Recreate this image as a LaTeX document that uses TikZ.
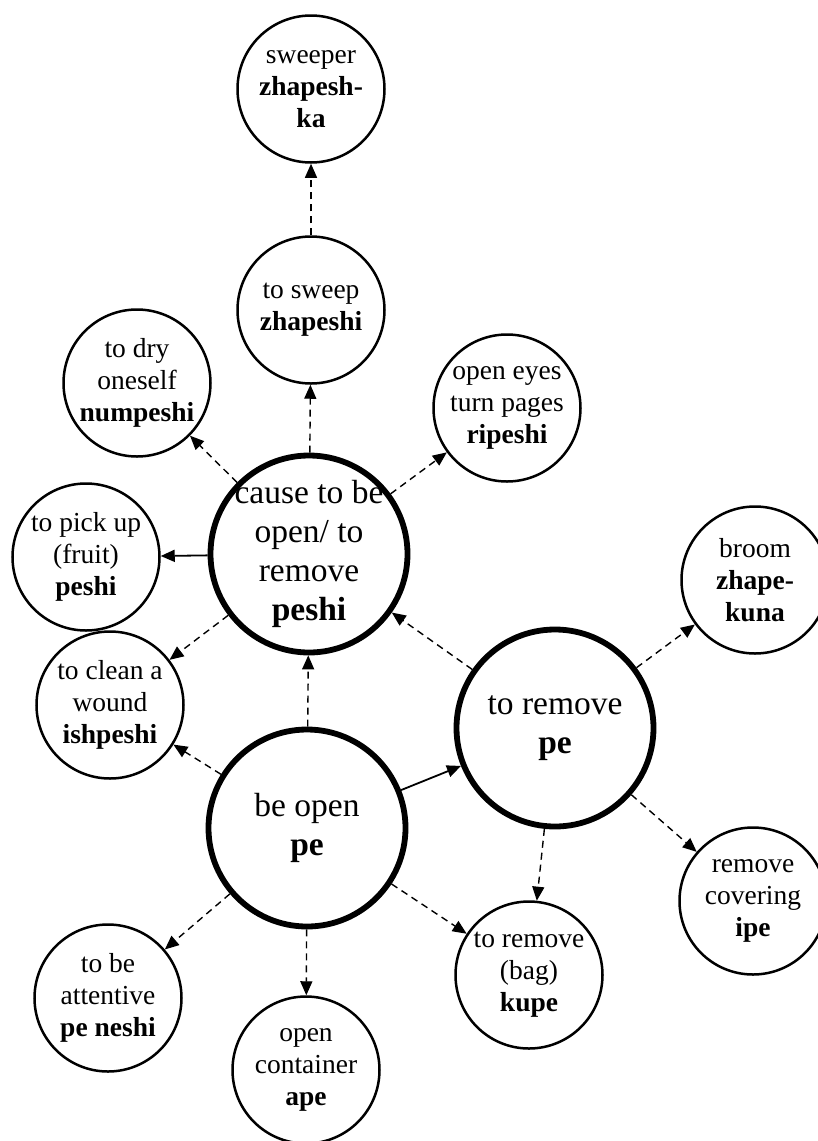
\documentclass[tikz,border=0pt]{standalone}
\usepackage{fontspec}
\setmainfont{Liberation Serif}
\usetikzlibrary{arrows.meta}
\begin{document}
\begin{tikzpicture}[x=1pt,y=-1pt,
 sc/.style={circle,draw,line width=2.5pt,minimum size=147pt,inner sep=0pt},
 bc/.style={circle,draw,line width=5.8pt,minimum size=197pt,inner sep=0pt},
 st/.style={align=center,font=\fontsize{27.5}{32}\selectfont,inner sep=0pt},
 bt/.style={align=center,font=\fontsize{33.5}{39}\selectfont,inner sep=0pt},
 tip/.style={-{Triangle[length=14pt,width=12pt]}},
 da/.style={tip,dash pattern=on 7pt off 5pt,line width=1.4pt},
 so/.style={tip,line width=1.8pt}
]
\useasboundingbox[fill=white] (0,0) rectangle (817,1141);
% circles
\node[sc] (sweeper) at (311,89) {};
\node[sc] (sweep) at (311,310) {};
\node[sc] (dry) at (137,383) {};
\node[sc] (eyes) at (507,408) {};
\node[sc] (pick) at (86,557) {};
\node[sc] (clean) at (110,705) {};
\node[sc] (broom) at (755,580) {};
\node[sc] (cover) at (753,901) {};
\node[sc] (attent) at (108,998) {};
\node[sc] (contain) at (306,1070) {};
\node[sc] (bag) at (529,975) {};
\node[bc] (cause) at (309,554) {};
\node[bc] (remove) at (555,728) {};
\node[bc] (open) at (307,828) {};
% texts
\node[st] (tsweeper) at (sweeper) {sweeper\\\textbf{zhapesh-}\\\textbf{ka}};
\node[st] (tsweep) at (sweep) {to sweep\\\textbf{zhapeshi}};
\node[st] (tdry) at (dry) {to dry\\oneself\\\textbf{numpeshi}};
\node[st] (teyes) at (eyes) {open eyes\\turn pages\\\textbf{ripeshi}};
\node[st] (tpick) at (pick) {to pick up\\(fruit)\\\textbf{peshi}};
\node[st] (tclean) at (clean) {to clean a\\wound\\\textbf{ishpeshi}};
\node[st] (tbroom) at (broom) {broom\\\textbf{zhape-}\\\textbf{kuna}};
\node[st] (tcover) at (cover) {remove\\covering\\\textbf{ipe}};
\node[st] (tattent) at (attent) {to be\\attentive\\\textbf{pe neshi}};
\node[st] (tcontain) at (contain) {open\\container\\\textbf{ape}};
\node[st] (tbag) at (bag) {to remove\\(bag)\\\textbf{kupe}};
\node[bt] (tcause) at (cause) {cause to be\\open/ to\\remove\\\textbf{peshi}};
\node[bt] (tremove) at (remove) {to remove\\\textbf{pe}};
\node[bt] (topen) at (open) {be open\\\textbf{pe}};
% connectors
\draw[da] (sweep) -- (sweeper);
\draw[da] (cause) -- (sweep);
\draw[da] (cause) -- (dry);
\draw[da] (cause) -- (eyes);
\draw[so] (cause) -- (pick);
\draw[da] (cause) -- (clean);
\draw[da] (open) -- (cause);
\draw[da] (open) -- (clean);
\draw[so] (open) -- (remove);
\draw[da] (remove) -- (cause);
\draw[da] (remove) -- (broom);
\draw[da] (remove) -- (cover);
\draw[da] (remove) -- (bag);
\draw[da] (open) -- (bag);
\draw[da] (open) -- (attent);
\draw[da] (open) -- (contain);
\end{tikzpicture}
\end{document}
